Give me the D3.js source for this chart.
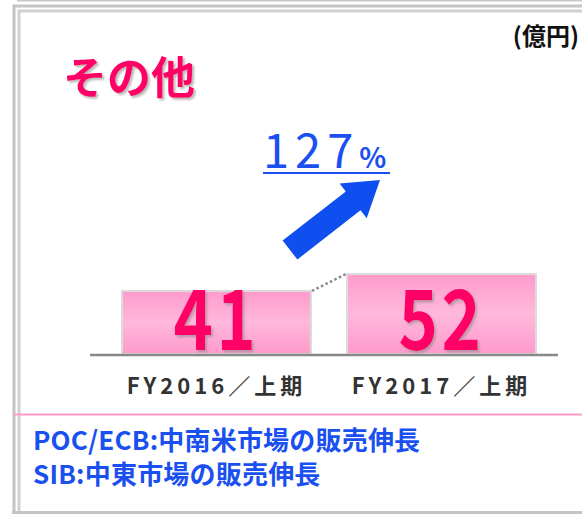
<!DOCTYPE html>
<html>
<head>
<meta charset="utf-8">
<script src="https://cdn.jsdelivr.net/npm/d3@7"></script>
<style>
  html, body { margin: 0; padding: 0; background: #fff; }
  svg { display: block; }
  text { font-family: "Noto Sans CJK JP", "Noto Sans", sans-serif; }
</style>
</head>
<body>
<div id="chart"></div>
<script>
// data
var categories = ["FY2016/上期", "FY2017/上期"];
var values = [41, 52];
var growth = "127";
var notes = ["POC/ECB:中南米市場の販売伸長", "SIB:中東市場の販売伸長"];

var svgWidth = 582;
var svgHeight = 514;

var svg = d3.select("#chart")
    .append("svg")
    .attr("width", svgWidth)
    .attr("height", svgHeight);

var defs = svg.append("defs");
var grad = defs.append("linearGradient")
    .attr("id", "barFill")
    .attr("x1", 0).attr("y1", 0).attr("x2", 0).attr("y2", 1);
grad.append("stop").attr("offset", "0%").attr("stop-color", "#ff9bcb");
grad.append("stop").attr("offset", "50%").attr("stop-color", "#ffb8dc");
grad.append("stop").attr("offset", "100%").attr("stop-color", "#ff9acb");

var shadow = defs.append("filter").attr("id", "shadow")
    .attr("x", "-10%").attr("y", "-10%").attr("width", "130%").attr("height", "130%");
shadow.append("feDropShadow")
    .attr("dx", 2).attr("dy", 2).attr("stdDeviation", 1)
    .attr("flood-color", "#888").attr("flood-opacity", 0.6);

// frame
svg.append("line")
    .attr("x1", 17).attr("x2", svgWidth).attr("y1", 0.5).attr("y2", 0.5)
    .attr("stroke", "#c8c8c8").attr("stroke-width", 2);
svg.append("path")
    .attr("d", "M14,514 V6 H582")
    .attr("fill", "none").attr("stroke", "#c4c4c4").attr("stroke-width", 3);
svg.append("path")
    .attr("d", "M19,514 V11 H582")
    .attr("fill", "none").attr("stroke", "#d0d0d0").attr("stroke-width", 3);
svg.append("line")
    .attr("x1", 12).attr("x2", svgWidth).attr("y1", 512.5).attr("y2", 512.5)
    .attr("stroke", "#c4c4c4").attr("stroke-width", 3);

// title + unit
svg.append("text")
    .attr("x", 63).attr("y", 94)
    .attr("font-size", 44).attr("font-weight", "bold")
    .attr("fill", "#ff0066")
    .attr("filter", "url(#shadow)")
    .text("その他");

svg.append("text")
    .attr("x", 579).attr("y", 45)
    .attr("text-anchor", "end")
    .attr("font-size", 24).attr("font-weight", "bold")
    .attr("fill", "#111")
    .text("(億円)");

// scales
var x = d3.scaleBand()
    .domain(categories)
    .range([122, 536])
    .paddingInner(0.16);

var baseY = 354;
var y = d3.scaleLinear()
    .domain([0, 52])
    .range([baseY, 274]);

var chartGroup = svg.append("g");

chartGroup.selectAll("rect.bar")
    .data(values)
    .enter()
    .append("rect")
    .attr("class", "bar")
    .attr("x", (d, i) => x(categories[i]))
    .attr("y", d => y(d))
    .attr("width", x.bandwidth())
    .attr("height", d => baseY - y(d))
    .attr("fill", "url(#barFill)")
    .attr("stroke", "#dcdcdc")
    .attr("stroke-width", 2);

// dotted connector between bar tops
chartGroup.append("line")
    .attr("x1", x(categories[0]) + x.bandwidth() + 1)
    .attr("y1", y(values[0]))
    .attr("x2", x(categories[1]) - 1)
    .attr("y2", y(values[1]))
    .attr("stroke", "#888")
    .attr("stroke-width", 2.5)
    .attr("stroke-dasharray", "2.5,2.5");

// baseline
chartGroup.append("line")
    .attr("x1", 90).attr("x2", 558)
    .attr("y1", baseY + 1).attr("y2", baseY + 1)
    .attr("stroke", "#888").attr("stroke-width", 2.5);

// value labels
chartGroup.selectAll("text.val")
    .data(values)
    .enter()
    .append("text")
    .attr("class", "val")
    .attr("transform", (d, i) => `translate(${x(categories[i]) + x.bandwidth() / 2}, ${baseY - 4}) scale(0.88, 1.1)`)
    .attr("text-anchor", "middle")
    .attr("font-family", "'Liberation Sans', Arial, sans-serif")
    .attr("font-size", 76).attr("font-weight", "bold")
    .attr("letter-spacing", 4)
    .attr("fill", "#ff0066")
    .attr("filter", "url(#shadow)")
    .text(d => d);

// category labels
chartGroup.selectAll("text.cat")
    .data(categories)
    .enter()
    .append("text")
    .attr("class", "cat")
    .attr("x", d => x(d) + x.bandwidth() / 2)
    .attr("y", 394)
    .attr("text-anchor", "middle")
    .attr("font-size", 22).attr("font-weight", "bold")
    .attr("letter-spacing", 4)
    .attr("fill", "#333")
    .text(d => d.replace("/", "／"));

// growth label
var gText = svg.append("text")
    .attr("x", 263).attr("y", 168)
    .attr("fill", "#1a4ff0");
gText.append("tspan")
    .attr("font-size", 47).attr("letter-spacing", 6)
    .text(growth);
gText.append("tspan")
    .attr("font-size", 28).attr("font-weight", "bold")
    .text("%");
svg.append("line")
    .attr("x1", 263).attr("x2", 390).attr("y1", 173).attr("y2", 173)
    .attr("stroke", "#1a4ff0").attr("stroke-width", 2);

// arrow
var ax0 = 290, ay0 = 250, ax1 = 380, ay1 = 180;
var ang = Math.atan2(ay1 - ay0, ax1 - ax0) * 180 / Math.PI;
var len = Math.hypot(ax1 - ax0, ay1 - ay0);
svg.append("path")
    .attr("transform", `translate(${ax0},${ay0}) rotate(${ang})`)
    .attr("d", `M0,-12 L${len - 34},-12 L${len - 34},-22 L${len},0 L${len - 34},22 L${len - 34},12 L0,12 Z`)
    .attr("fill", "#0f4ff0");

// separator + notes
svg.append("line")
    .attr("x1", 13).attr("x2", svgWidth).attr("y1", 414.5).attr("y2", 414.5)
    .attr("stroke", "#ff99cc").attr("stroke-width", 2);

svg.selectAll("text.note")
    .data(notes)
    .enter()
    .append("text")
    .attr("class", "note")
    .attr("x", 33)
    .attr("y", (d, i) => 450 + i * 34)
    .attr("font-size", 26).attr("font-weight", "bold")
    .attr("letter-spacing", 0.2)
    .attr("fill", "#1a4ff0")
    .text(d => d);
</script>
</body>
</html>
